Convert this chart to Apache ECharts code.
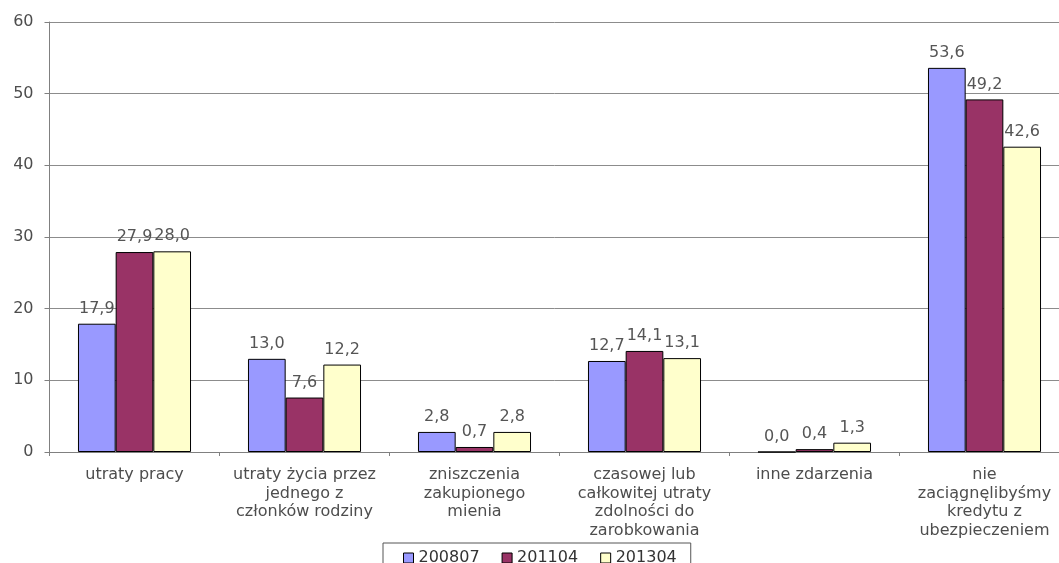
<!DOCTYPE html>
<html>
<head>
<meta charset="utf-8">
<script src="https://cdn.jsdelivr.net/npm/echarts@6/dist/echarts.min.js"></script>
<style>
  html, body { margin: 0; padding: 0; background: #fff; }
  #chart { width: 1059px; height: 563px; }
</style>
</head>
<body>
<div id="chart"></div>
<script>
// Categories (reasons) and survey waves
const categories = [
  'utraty pracy',
  'utraty życia przez\njednego z\nczłonków rodziny',
  'zniszczenia\nzakupionego\nmienia',
  'czasowej lub\ncałkowitej utraty\nzdolności do\nzarobkowania',
  'inne zdarzenia',
  'nie\nzaciągnęlibyśmy\nkredytu z\nubezpieczeniem'
];
const seriesNames = ['200807', '201104', '201304'];
const values200807 = [17.9, 13.0, 2.8, 12.7, 0.0, 53.6];
const values201104 = [27.9, 7.6, 0.7, 14.1, 0.4, 49.2];
const values201304 = [28.0, 12.2, 2.8, 13.1, 1.3, 42.6];
const yTicks = { min: 0, max: 60, interval: 10 };

const colors = ['#9999FF', '#993366', '#FFFFCC'];
const font = 'DejaVu Sans, Verdana, sans-serif';

const chart = echarts.init(document.getElementById('chart'));

function barSeries(name, data, color) {
  return {
    name: name,
    type: 'bar',
    data: data,
    barGap: '0%',
    barCategoryGap: '33.5%',
    itemStyle: { color: color, borderColor: '#000', borderWidth: 1 },
    label: {
      show: true,
      position: 'top',
      distance: 7,
      color: '#555',
      fontFamily: font,
      fontSize: 16,
      formatter: p => p.value.toFixed(1).replace('.', ',')
    }
  };
}

chart.setOption({
  animation: false,
  // plot area runs slightly past the right edge of the page
  grid: {
    left: 49.5, width: 1020, top: 22, height: 430,
    containLabel: false, outerBoundsMode: 'none'
  },
  xAxis: {
    type: 'category',
    data: categories,
    axisLine: { lineStyle: { color: '#808080', width: 1 } },
    axisTick: { show: true, length: 4, lineStyle: { color: '#808080' } },
    axisLabel: {
      interval: 0,
      color: '#4d4d4d',
      fontFamily: font,
      fontSize: 16,
      lineHeight: 18.5,
      margin: 14,
      align: 'center'
    }
  },
  yAxis: {
    type: 'value',
    min: yTicks.min,
    max: yTicks.max,
    interval: yTicks.interval,
    axisLine: { show: true, lineStyle: { color: '#808080', width: 1 } },
    axisTick: { show: true, length: 5, lineStyle: { color: '#808080' } },
    splitLine: { lineStyle: { color: '#8c8c8c', width: 1 } },
    axisLabel: { color: '#4d4d4d', fontFamily: font, fontSize: 16, margin: 16 }
  },
  legend: {
    data: seriesNames,
    left: 383,
    top: 543,
    backgroundColor: '#fff',
    borderColor: '#555',
    borderWidth: 1,
    padding: [7, 14, 10, 20],
    itemWidth: 10,
    itemHeight: 10,
    itemGap: 22,
    icon: 'rect',
    textStyle: { color: '#333', fontFamily: font, fontSize: 16 },
    itemStyle: { borderColor: '#000', borderWidth: 1 }
  },
  series: [
    barSeries(seriesNames[0], values200807, colors[0]),
    barSeries(seriesNames[1], values201104, colors[1]),
    barSeries(seriesNames[2], values201304, colors[2])
  ]
});
</script>
</body>
</html>
